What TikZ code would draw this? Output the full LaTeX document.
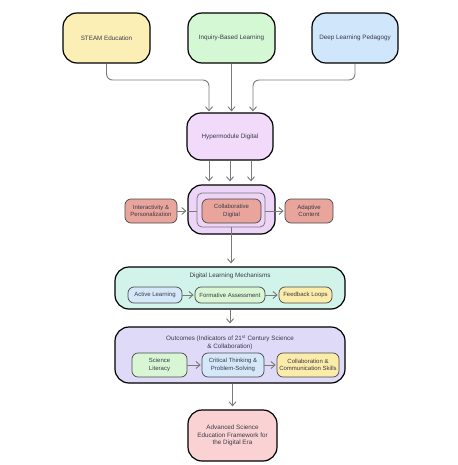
\documentclass[tikz,border=0pt]{standalone}
\usepackage{fontspec}
\setmainfont{Liberation Sans}
\usetikzlibrary{arrows.meta,positioning}

\definecolor{textgray}{HTML}{3A3A48}
\definecolor{arrowgray}{HTML}{7A7A7A}
\definecolor{boxline}{HTML}{4A4A4A}
\definecolor{steamyellow}{HTML}{FCEFB6}
\definecolor{inqgreen}{HTML}{D4F8D4}
\definecolor{deepblue}{HTML}{D0E6FB}
\definecolor{hyperpurple}{HTML}{F1DAFA}
\definecolor{collabpurple}{HTML}{EDD5F8}
\definecolor{salmon}{HTML}{E9A59B}
\definecolor{mint}{HTML}{D1F3EA}
\definecolor{outlav}{HTML}{DEDAF8}
\definecolor{paleblue}{HTML}{D5E8FA}
\definecolor{palegreen}{HTML}{D8F6D3}
\definecolor{paleyellow}{HTML}{FCECAA}
\definecolor{finalpink}{HTML}{FAD2D4}

\begin{document}
\begin{tikzpicture}[x=1pt, y=-1pt, >={Straight Barb[length=4pt,width=7pt]},
    every node/.style={font=\fontsize{6.3}{7.6}\selectfont, text=textgray, align=center},
    bigbox/.style={draw=black, line width=1.2pt, rounded corners=14pt, inner sep=0pt},
    smallbox/.style={draw=boxline, line width=0.7pt, rounded corners=6pt, inner sep=0pt,
        font=\fontsize{6}{7.4}\selectfont},
    flow/.style={->, draw=arrowgray, line width=0.9pt, shorten >=1pt},
    link/.style={draw=arrowgray, line width=0.9pt}]
    \useasboundingbox (0,0) rectangle (457,465);

    % sources
    \node[bigbox, fill=steamyellow, minimum width=87, minimum height=50] (steam) at (106.5,38) {STEAM Education};
    \node[bigbox, fill=inqgreen, minimum width=87, minimum height=50] (inquiry) at (231.5,38) {Inquiry-Based Learning};
    \node[bigbox, fill=deepblue, minimum width=86, minimum height=50] (deep) at (355,38) {Deep Learning Pedagogy};

    \node[bigbox, fill=hyperpurple, minimum width=86, minimum height=47] (hyper) at (230,136.5) {Hypermodule Digital};

    \coordinate (joinL) at (209,80);
    \coordinate (joinR) at (253,80);
    \draw[flow, rounded corners=6pt] (steam.south) |- (joinL) -- (hyper.north -| joinL);
    \draw[flow] (inquiry.south) -- (inquiry.south |- hyper.north);
    \draw[flow, rounded corners=6pt] (deep.south) |- (joinR) -- (hyper.north -| joinR);

    % collaborative core
    \node[bigbox, fill=collabpurple, minimum width=87, minimum height=49] (collab) at (231.5,209.5) {};
    \node[draw=arrowgray, line width=0.8pt, rounded corners=5pt, minimum width=68, minimum height=34] (frame) at (231,210) {};
    \node[smallbox, fill=salmon, minimum width=59, minimum height=24] (collabdig) at (231.5,211) {Collaborative\\Digital};
    \node[smallbox, fill=salmon, minimum width=52, minimum height=24] (interact) at (151,211) {Interactivity \&\\Personalization};
    \node[smallbox, fill=salmon, minimum width=48, minimum height=24] (adaptive) at (309,211) {Adaptive\\Content};

    \foreach \dx in {-21,0,21}
        \draw[flow, shorten >=3pt] ([xshift=\dx]hyper.south) -- ([xshift=\dx]hyper.south |- collab.north);

    \draw[flow] (interact.east) -- (interact.east -| collab.west);
    \draw[link] (interact.east -| collab.west) -- (interact.east -| frame.west);
    \draw[link] (adaptive.west -| frame.east) -- (adaptive.west -| collab.east);
    \draw[flow] (adaptive.west -| collab.east) -- (adaptive.west);

    % mechanisms
    \node[bigbox, fill=mint, minimum width=230, minimum height=42] (dlm) at (230,288) {};
    \node (dlmtitle) at (230,276) {Digital Learning Mechanisms};
    \node[smallbox, fill=paleblue, minimum width=54, minimum height=16] (active) at (155,295) {Active Learning};
    \node[smallbox, fill=palegreen, minimum width=70, minimum height=16] (formative) at (230,295) {Formative Assessment};
    \node[smallbox, fill=paleyellow, minimum width=53, minimum height=16] (feedback) at (305.5,295) {Feedback Loops};
    \draw[flow] (active) -- (formative);
    \draw[flow] (formative) -- (feedback);

    \draw[flow, shorten >=3pt] (frame.south) -- (frame.south |- dlm.north);

    % outcomes
    \node[bigbox, fill=outlav, minimum width=230, minimum height=56] (outcomes) at (230,355) {};
    \node (outtitle) at (230,342.5) {Outcomes (Indicators of 21\textsuperscript{st} Century Science\\\& Collaboration)};
    \node[smallbox, fill=palegreen, minimum width=55, minimum height=24] (science) at (159.5,365) {Science\\Literacy};
    \node[smallbox, fill=paleblue, minimum width=62, minimum height=24] (critical) at (233,365) {Critical Thinking \&\\Problem-Solving};
    \node[smallbox, fill=paleyellow, minimum width=62, minimum height=24] (collabskill) at (308,365) {Collaboration \&\\Communication Skills};
    \draw[flow] (science) -- (critical);
    \draw[flow] (critical) -- (collabskill);

    \draw[flow, shorten >=3pt] (dlm.south) -- (outcomes.north);

    % result
    \node[bigbox, fill=finalpink, minimum width=89, minimum height=51] (final) at (232.5,435.5) {Advanced Science\\Education Framework for\\the Digital Era};
    \draw[flow, shorten >=3pt] (final.north |- outcomes.south) -- (final.north);
\end{tikzpicture}
\end{document}
